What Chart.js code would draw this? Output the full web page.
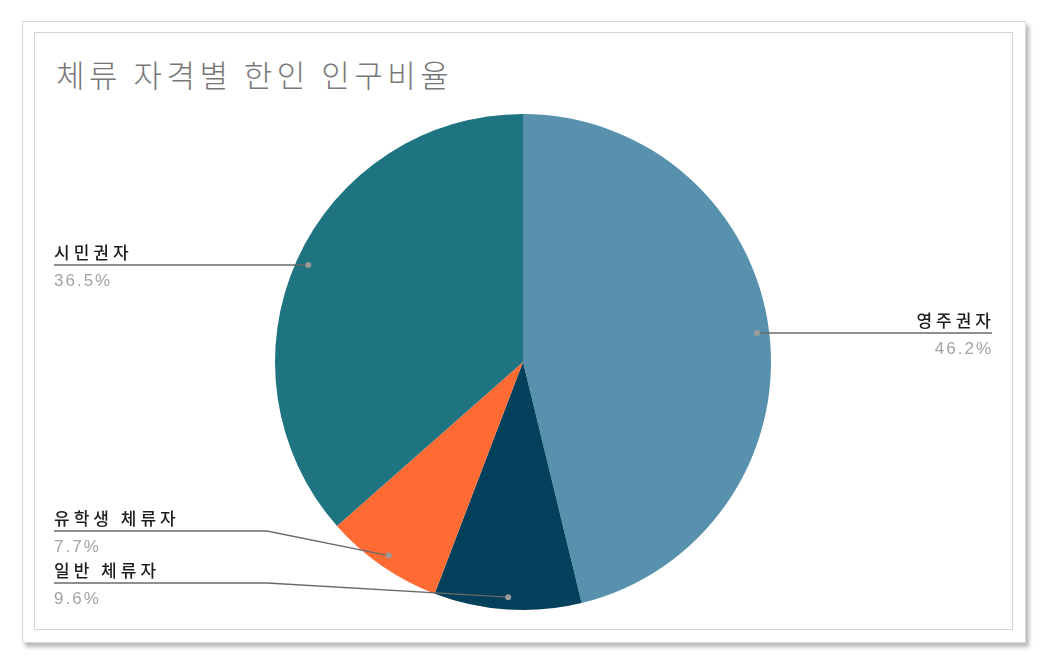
<!DOCTYPE html>
<html><head><meta charset="utf-8">
<script src="https://cdn.jsdelivr.net/npm/chart.js@4.4.1/dist/chart.umd.min.js"></script>
<style>
html,body{margin:0;padding:0;background:#fff;width:1046px;height:664px;overflow:hidden;}
#outer{position:absolute;left:22px;top:21px;width:1002px;height:620px;border:1px solid #d8d8d8;box-shadow:3px 4px 4px rgba(0,0,0,0.28);background:#fff;}
#inner{position:absolute;left:34px;top:32px;width:977px;height:596px;border:1px solid #d4d4d4;}
#title{position:absolute;left:56px;top:51px;font-family:"Noto Sans CJK KR";font-weight:300;font-size:31px;color:#787878;letter-spacing:4.5px;white-space:nowrap;}
#wrap{position:absolute;left:0;top:0;width:1046px;height:664px;}
</style></head><body>
<div id="outer"></div>
<div id="inner"></div>
<div id="title">체류 자격별 한인 인구비율</div>
<div id="wrap"><canvas id="c" width="1046" height="664"></canvas></div>
<script>
const categories = ["영주권자", "일반 체류자", "유학생 체류자", "시민권자"];
const values = [46.2, 9.6, 7.7, 36.5];
const colors = ["#5891ae", "#02405c", "#ff6b33", "#1e7481"];

// label placements (layout only): side, text anchor x, line y, knee x
const labelLayout = [
  {side:"right", x:992, lineY:333},
  {side:"left", x:54, lineY:583, knee:267},
  {side:"left", x:54, lineY:531, knee:267},
  {side:"left", x:54, lineY:265}
];

const labelPlugin = {
  id: "pieLabels",
  afterDatasetsDraw(chart) {
    const ctx = chart.ctx;
    const meta = chart.getDatasetMeta(0);
    meta.data.forEach((arc, i) => {
      const p = arc.getProps(["x","y","startAngle","endAngle","outerRadius"], true);
      const mid = (p.startAngle + p.endAngle) / 2;
      const r = p.outerRadius * 0.95;
      const dx = p.x + Math.cos(mid) * r;
      const dy = p.y + Math.sin(mid) * r;
      const L = labelLayout[i];
      ctx.save();
      ctx.strokeStyle = "#6a6a6a";
      ctx.lineWidth = 1.3;
      ctx.beginPath();
      if (L.side === "right") {
        ctx.moveTo(dx, L.lineY);
        ctx.lineTo(L.x, L.lineY);
      } else if (L.knee) {
        ctx.moveTo(L.x, L.lineY);
        ctx.lineTo(L.knee, L.lineY);
        ctx.lineTo(dx, dy);
      } else {
        ctx.moveTo(L.x, L.lineY);
        ctx.lineTo(dx, L.lineY);
      }
      ctx.stroke();
      ctx.fillStyle = "#9a9a9a";
      ctx.beginPath();
      ctx.arc(dx, L.knee ? dy : L.lineY, 3, 0, Math.PI*2);
      ctx.fill();
      ctx.textAlign = L.side === "right" ? "right" : "left";
      ctx.textBaseline = "alphabetic";
      ctx.fillStyle = "#1e1e1e";
      ctx.font = "500 17px 'Noto Sans CJK KR'";
      if (ctx.letterSpacing !== undefined) ctx.letterSpacing = "4px";
      ctx.fillText(categories[i], L.x + (L.side==="right"? 3:0), L.lineY - 6);
      ctx.fillStyle = "#a3a3a3";
      ctx.font = "17px 'Liberation Sans'";
      if (ctx.letterSpacing !== undefined) ctx.letterSpacing = "2px";
      ctx.fillText(values[i].toFixed(1) + "%", L.x + (L.side==="right"? 1:0), L.lineY + 21);
      ctx.restore();
    });
  }
};

new Chart(document.getElementById("c"), {
  type: "pie",
  data: {
    labels: categories,
    datasets: [{ data: values, backgroundColor: colors, borderWidth: 0, hoverOffset: 0, offset: 0 }]
  },
  options: {
    responsive: false,
    animation: false,
    layout: { padding: { top: 114, bottom: 54, left: 20, right: 20 } },
    plugins: { legend: { display: false }, title: { display: false }, tooltip: { enabled: false } }
  },
  plugins: [labelPlugin]
});
</script>
</body></html>
